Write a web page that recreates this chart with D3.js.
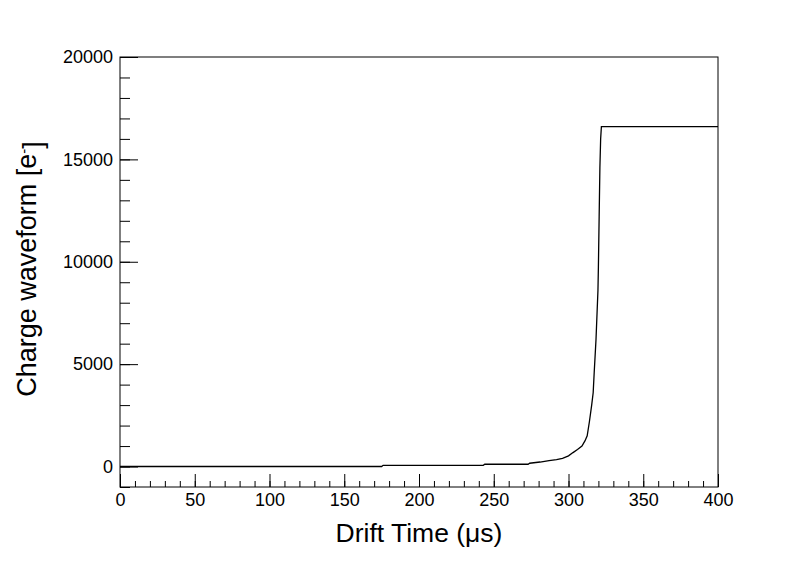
<!DOCTYPE html>
<html>
<head>
<meta charset="utf-8">
<script src="https://cdn.jsdelivr.net/npm/d3@7"></script>
<style>
  body { margin: 0; background: #fff; }
  svg { font-family: "Liberation Sans", Arial, Helvetica, sans-serif; }
</style>
</head>
<body>
<svg></svg>
<script>
// waveform samples
const driftTime = [0, 175, 176, 243, 244, 273, 274, 281, 287, 292, 296, 300, 303, 306, 309, 311, 312.5, 314, 315.5, 316.5, 317.2, 318.4, 319.7, 320, 320.5, 321, 321.5, 322, 400];
const charge    = [0, 0, 60, 60, 110, 110, 160, 220, 290, 340, 400, 520, 680, 830, 1000, 1250, 1500, 2200, 3000, 3600, 4600, 6200, 8600, 9750, 12200, 14600, 16000, 16600, 16600];

const xMajorTicks = [0, 50, 100, 150, 200, 250, 300, 350, 400];
const yMajorTicks = [0, 5000, 10000, 15000, 20000];
const xMinorTicks = d3.range(0, 401, 10);
const yMinorTicks = d3.range(-1000, 20001, 1000);

const width = 798, height = 574;
const frameL = 120, frameR = 718, frameT = 57, frameB = 487;

const svg = d3.select('svg')
  .attr('width', width)
  .attr('height', height);

const x = d3.scaleLinear().domain([0, 400]).range([frameL, frameR]);
const y = d3.scaleLinear().domain([-1000, 20000]).range([frameB, frameT]);

// y axis (ticks pointing into the frame) //////////////
svg.append('g')
  .attr('transform', `translate(${frameL},0)`)
  .call(d3.axisLeft(y).tickValues(yMinorTicks).tickSize(-10).tickFormat(''))
  .call(g => g.select('.domain').remove());

const yAx = svg.append('g')
  .attr('transform', `translate(${frameL},0)`)
  .call(d3.axisLeft(y).tickValues(yMajorTicks).tickSize(-18).tickPadding(7).tickFormat(d3.format('d')));
yAx.select('.domain').remove();
yAx.selectAll('text').attr('font-size', '18px').attr('fill', '#000').attr('font-family', null);

// x axis //////////////////////////////
svg.append('g')
  .attr('transform', `translate(0,${frameB})`)
  .call(d3.axisBottom(x).tickValues(xMinorTicks).tickSize(-6).tickFormat(''))
  .call(g => g.select('.domain').remove());

const xAx = svg.append('g')
  .attr('transform', `translate(0,${frameB})`)
  .call(d3.axisBottom(x).tickValues(xMajorTicks).tickSize(-13).tickPadding(6));
xAx.select('.domain').remove();
xAx.selectAll('text').attr('font-size', '18px').attr('fill', '#000').attr('font-family', null);

svg.selectAll('.tick line').attr('stroke', '#000');

// frame
svg.append('rect')
  .attr('x', frameL)
  .attr('y', frameT)
  .attr('width', frameR - frameL)
  .attr('height', frameB - frameT)
  .attr('fill', 'none')
  .attr('stroke', 'black')
  .attr('stroke-width', 1);

// waveform
const line = d3.line()
  .x((d, i) => x(driftTime[i]))
  .y(d => y(d));

svg.append('path')
  .datum(charge)
  .attr('d', line)
  .attr('fill', 'none')
  .attr('stroke', 'black')
  .attr('stroke-width', 1.3);

// titles
svg.append('text')
  .attr('x', (frameL + frameR) / 2)
  .attr('y', 542)
  .attr('text-anchor', 'middle')
  .attr('font-size', '26.5px')
  .text('Drift Time (\u03bcs)');

const yTitle = svg.append('text')
  .attr('transform', `translate(36,${(frameT + frameB) / 2 - 3}) rotate(-90)`)
  .attr('text-anchor', 'middle')
  .attr('font-size', '27px');
yTitle.append('tspan').text('Charge waveform [e');
yTitle.append('tspan').attr('dy', '-0.5em').attr('font-size', '15px').text('-');
yTitle.append('tspan').attr('dy', '0.5em').text(']');
</script>
</body>
</html>
